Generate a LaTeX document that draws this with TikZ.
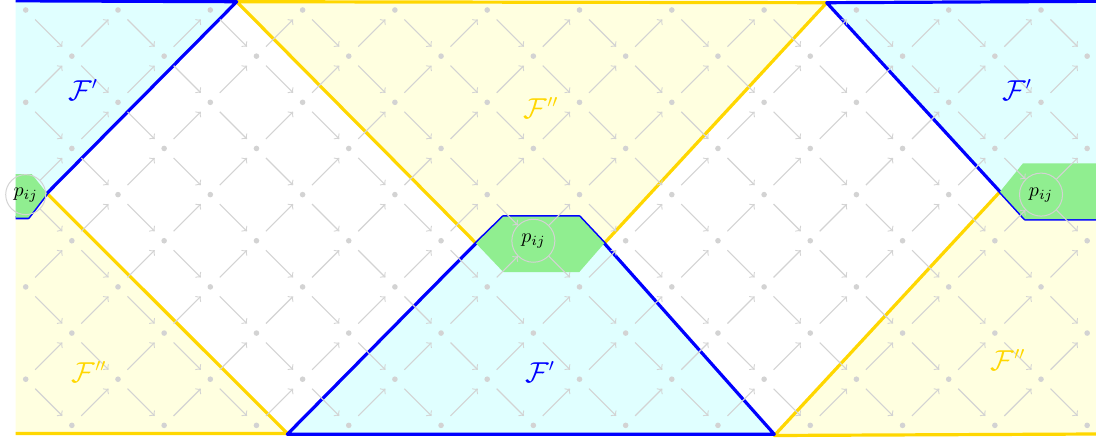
\documentclass[tikz,border=0pt]{standalone}
\definecolor{fcyan}{RGB}{224,255,255}
\definecolor{fyellow}{RGB}{255,255,224}
\definecolor{fgreen}{RGB}{144,238,144}
\definecolor{fgold}{RGB}{255,215,0}
\definecolor{fgray}{RGB}{211,211,211}
\begin{document}
\begin{tikzpicture}[x=0.5pt,y=-0.5pt,
  bline/.style={draw=blue,line width=1.6pt,line join=round},
  yline/.style={draw=fgold,line width=1.6pt,line join=round},
  vtx/.style={circle,minimum size=13pt,inner sep=0pt},
  pnode/.style={circle,draw=fgray,line width=0.5pt,minimum size=21.5pt,inner sep=0pt,font=\normalsize},
  garrow/.style={draw=fgray,line width=0.55pt,->},
  flab/.style={font=\fontsize{13.5}{16}\selectfont}]
\useasboundingbox (0,0) rectangle (1096,439);
% regions
\fill[fcyan] (15.7,1) -- (236.7,1.7) -- (47,193.3) -- (28.3,217.7) -- (15.7,217.7) -- cycle;
\fill[fcyan] (287.3,434) -- (476,243.3) -- (503.3,216.7) -- (579.3,216.7) -- (604.3,243.3) -- (774.3,434.3) -- cycle;
\fill[fcyan] (826.7,2.7) -- (1096,1.3) -- (1096,219) -- (1025,219) -- (1000,191.7) -- cycle;
\fill[fyellow] (15.7,217.7) -- (28.3,217.7) -- (47,193.3) -- (287.3,433.5) -- (15.7,433.5) -- cycle;
\fill[fyellow] (236.7,1.7) -- (826.7,2.7) -- (604.3,243.3) -- (476,243.3) -- cycle;
\fill[fyellow] (1000,191.7) -- (1025,219) -- (1096,219) -- (1096,434) -- (774.3,435.5) -- cycle;
% boundaries
\draw[yline] (47,193.3) -- (287.3,433.5) -- (15.7,433.5);
\draw[yline] (476,243.3) -- (236.7,1.7) -- (826.7,2.7) -- (604.3,243.3);
\draw[yline] (1000,191.7) -- (774.3,435.5) -- (1096,434);
\draw[bline] (15.7,217.7) -- (28.3,217.7) -- (47,193.3) -- (236.7,1.7) -- (15.7,0.8);
\draw[bline] (287.3,434.3) -- (476,243.3) -- (503.3,216.7) -- (579.3,216.7) -- (604.3,243.3) -- (774.3,434.3) -- cycle;
\draw[bline] (1096,219) -- (1025,219) -- (1000,191.7) -- (826.7,2.7) -- (1096,1.3);
% green hexagons
\fill[fgreen] (15.7,174) -- (31.7,174) -- (47,193.3) -- (28.3,217.7) -- (15.7,217.7) -- cycle;
\fill[fgreen] (476,243.3) -- (503.3,216.7) -- (579.3,216.7) -- (604.3,243.3) -- (579.3,272) -- (503.3,272) -- cycle;
\fill[fgreen] (1000,191.7) -- (1023,163.3) -- (1096,163.3) -- (1096,219) -- (1025,219) -- cycle;
% lattice nodes
\node[pnode,minimum size=20pt] (n-0-4) at ({25.7},{10+46.15*4}) {$p_{ij}$};
\node[pnode] (n-11-5) at ({25.7+46.15*11},{10+46.15*5}) {$p_{ij}$};
\node[pnode] (n-22-4) at ({25.7+46.15*22},{10+46.15*4}) {$p_{ij}$};
\foreach \i in {0,...,23}{
  \foreach \j in {0,...,9}{
    \pgfmathtruncatemacro\pp{mod(\i+\j,2)}
    \ifnum\pp=0
      \pgfmathtruncatemacro\isp{((\i==0)&&(\j==4))||((\i==11)&&(\j==5))||((\i==22)&&(\j==4))}
      \ifnum\isp=0
        \node[vtx] (n-\i-\j) at ({25.7+46.15*\i},{10+46.15*\j}) {};
        \fill[fgray] (n-\i-\j.center) circle[radius=1.4pt];
      \fi
    \fi
  }
}
\foreach \i in {0,...,22}{
  \foreach \j in {0,...,9}{
    \pgfmathtruncatemacro\pp{mod(\i+\j,2)}
    \ifnum\pp=0
      \pgfmathtruncatemacro\ni{\i+1}
      \pgfmathtruncatemacro\jd{\j+1}
      \pgfmathtruncatemacro\ju{\j-1}
      \ifnum\j<9 \draw[garrow] (n-\i-\j) -- (n-\ni-\jd); \fi
      \ifnum\j>0 \draw[garrow] (n-\i-\j) -- (n-\ni-\ju); \fi
    \fi
  }
}
% labels
\node[flab,text=blue] (fa) at (83,90) {$\mathcal{F}'$};
\node[flab,text=blue] (fb) at (540,372) {$\mathcal{F}'$};
\node[flab,text=blue] (fc) at (1017,90) {$\mathcal{F}'$};
\node[flab,text=fgold] (fd) at (89,372) {$\mathcal{F}''$};
\node[flab,text=fgold] (fe) at (541,108) {$\mathcal{F}''$};
\node[flab,text=fgold] (ff) at (1008,360) {$\mathcal{F}''$};
\end{tikzpicture}
\end{document}
